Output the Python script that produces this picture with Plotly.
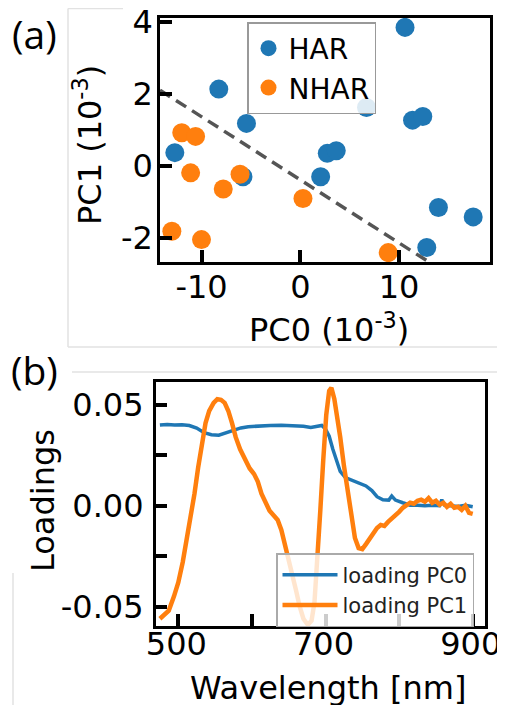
import plotly.graph_objects as go

# ---------------- Panel (a) data: PCA scores (units 1e-3) ----------------
har_pc0 = [10.6, -8.25, -5.45, -12.7, -5.8, 2.06, 2.73, 3.64, 6.7, 11.36, 12.4, 13.98, 17.5, 12.8]
har_pc1 = [3.84, 2.13, 1.18, 0.37, -0.30, -0.30, 0.35, 0.42, 1.62, 1.27, 1.37, -1.15, -1.41, -2.26]
nhar_pc0 = [-12.0, -10.6, -11.1, -7.8, -6.1, 0.27, -13.0, -10.0, 8.9]
nhar_pc1 = [0.92, 0.82, -0.19, -0.64, -0.23, -0.90, -1.81, -2.04, -2.40]
boundary_pc0 = [-14.2, 13.3]
boundary_pc1 = [2.10, -2.71]

# ---------------- Panel (b) data: loadings vs wavelength ----------------
wl_pc0 = [475, 485, 495, 505, 515, 525, 535, 545, 555, 565, 575, 585, 595, 610, 625, 640,
          655, 670, 680, 690, 695, 700, 705, 710, 715, 720, 727, 735, 745, 755, 763, 770,
          778, 786, 790, 795, 805, 815, 825, 835, 845, 855, 858, 862, 870, 880, 890, 900]
loading_pc0 = [0.0400, 0.0403, 0.0400, 0.0402, 0.0398, 0.0385, 0.0362, 0.0352, 0.0350, 0.0362,
               0.0378, 0.0386, 0.0392, 0.0396, 0.0398, 0.0399, 0.0397, 0.0394, 0.0388, 0.0395,
               0.0398, 0.0380, 0.0345, 0.0280, 0.0220, 0.0170, 0.0140, 0.0128, 0.0115, 0.0098,
               0.0075, 0.0045, 0.0030, 0.0028, 0.0048, 0.0028, 0.0015, 0.0003, 0.0002, 0.0000,
               0.0003, 0.0000, 0.0030, 0.0002, 0.0000, -0.0003, 0.0002, -0.0005]

wl_pc1 = [475, 480, 487, 494, 500, 506, 512, 517, 522, 527, 532, 537, 542, 548, 553, 558,
          563, 568, 573, 578, 584, 590, 597, 603, 608, 613, 618, 624, 630, 635, 640, 645,
          650, 655, 660, 665, 670, 676, 681, 685, 689, 693, 697, 701, 705, 708, 712, 716,
          720, 725, 730, 735, 740, 745, 750, 755, 760, 765, 770, 775, 780, 785, 790, 795,
          800, 805, 810, 815, 820, 825, 830, 835, 840, 845, 850, 855, 860, 865, 870, 875,
          880, 885, 890, 895, 900]
loading_pc1 = [-0.0560, -0.0540, -0.0520, -0.0450, -0.0380, -0.0280, -0.0160, -0.0060, 0.0060,
               0.0190, 0.0310, 0.0410, 0.0470, 0.0510, 0.0528, 0.0525, 0.0510, 0.0470, 0.0410,
               0.0340, 0.0280, 0.0230, 0.0185, 0.0157, 0.0120, 0.0060, 0.0015, -0.0025, -0.0050,
               -0.0070, -0.0120, -0.0190, -0.0270, -0.0340, -0.0420, -0.0500, -0.0560, -0.0590,
               -0.0570, -0.0480, -0.0280, -0.0020, 0.0230, 0.0450, 0.0570, 0.0585, 0.0530,
               0.0440, 0.0340, 0.0200, 0.0070, -0.0060, -0.0160, -0.0210, -0.0215, -0.0190,
               -0.0160, -0.0135, -0.0110, -0.0095, -0.0100, -0.0080, -0.0065, -0.0050, -0.0030,
               -0.0010, 0.0005, 0.0015, 0.0010, 0.0025, 0.0030, 0.0020, 0.0038, 0.0015, 0.0025,
               0.0005, 0.0015, -0.0005, 0.0010, -0.0010, -0.0005, -0.0020, 0.0000, -0.0035, -0.0040]

x_ticks_a = [-10, 0, 10]
x_ticktext_a = ["-10", "0", "10"]
y_ticks_a = [-2, 0, 2, 4]
y_ticktext_a = ["-2", "0", "2", "4"]
x_ticks_b = [500, 600, 700, 800, 900]
x_ticktext_b = ["500", "", "700", "", "900"]
y_ticks_b = [-0.05, -0.025, 0.0, 0.025, 0.05]
y_ticktext_b = ["-0.05", "", "0.00", "", "0.05"]

# figure fits inside the 505x713 window together with the 8px page margin
OFF = 8
W, H = 505 - 2 * OFF, 713 - 2 * OFF
BLUE, ORANGE = "#1f77b4", "#ff7f0e"
FONT = "DejaVu Sans"

def px(x):
    return (x - OFF) / W

def py(y):
    return 1 - (y - OFF) / H

fig = go.Figure()
fig.add_trace(go.Scatter(x=har_pc0, y=har_pc1, mode="markers", name="HAR",
                         marker=dict(color=BLUE, size=19), xaxis="x", yaxis="y", legend="legend"))
fig.add_trace(go.Scatter(x=nhar_pc0, y=nhar_pc1, mode="markers", name="NHAR",
                         marker=dict(color=ORANGE, size=19), xaxis="x", yaxis="y", legend="legend"))
fig.add_trace(go.Scatter(x=boundary_pc0, y=boundary_pc1, mode="lines", showlegend=False,
                         line=dict(color="#555555", width=3.5, dash="12px,7px"), xaxis="x", yaxis="y"))
fig.add_trace(go.Scatter(x=wl_pc0, y=loading_pc0, mode="lines", name="loading PC0",
                         line=dict(color=BLUE, width=3.5), xaxis="x2", yaxis="y2", legend="legend2"))
fig.add_trace(go.Scatter(x=wl_pc1, y=loading_pc1, mode="lines", name="loading PC1",
                         line=dict(color=ORANGE, width=4.5), xaxis="x2", yaxis="y2", legend="legend2"))

axis_common = dict(showline=True, linecolor="black", linewidth=2.5, mirror=True,
                   ticks="inside", ticklen=12, tickwidth=3.5, tickcolor="black", automargin=False,
                   ticklabeloverflow="allow",
                   showgrid=False, zeroline=False, tickfont=dict(family=FONT, size=32, color="black"))

fig.update_layout(
    width=W, height=H, margin=dict(l=0, r=0, t=0, b=0, autoexpand=False),
    paper_bgcolor="white", plot_bgcolor="white",
    font=dict(family=FONT, color="black"),
    xaxis=dict(domain=[px(160), px(490)], range=[-14.2, 19.2], tickvals=x_ticks_a,
               ticktext=x_ticktext_a, anchor="y", ticklabelstandoff=-5, **axis_common),
    yaxis=dict(domain=[py(262), py(18)], range=[-2.66, 4.1], tickvals=y_ticks_a,
               ticktext=y_ticktext_a, anchor="x", ticklabelstandoff=-2, **axis_common),
    xaxis2=dict(domain=[px(155.7), px(485)], range=[469.3, 916.7], tickvals=x_ticks_b,
                ticktext=x_ticktext_b, anchor="y2", ticklabelstandoff=-12, ticklabelshift=-2,
                **axis_common),
    yaxis2=dict(domain=[py(626), py(381.7)], range=[-0.0596, 0.0615], tickvals=y_ticks_b,
                ticktext=y_ticktext_b, anchor="x2", ticklabelstandoff=3, **axis_common),
    legend=dict(x=px(247), y=py(22), xanchor="left", yanchor="top",
                bgcolor="rgba(255,255,255,0.85)", bordercolor="#999999", borderwidth=1.5,
                font=dict(family=FONT, size=28, color="black"), itemwidth=30,
                tracegroupgap=0),
    legend2=dict(x=px(474), y=py(553), xanchor="right", yanchor="top",
                 bgcolor="rgba(255,255,255,0.8)", bordercolor="#aaaaaa", borderwidth=1.5,
                 font=dict(family=FONT, size=21, color="#222222"), itemwidth=55),
)

annotations = [
    dict(text="PC1 (10<sup>-3</sup>)", x=px(88), y=py(145), textangle=-90, font=dict(size=32)),
    dict(text="PC0 (10<sup>-3</sup>)", x=px(329), y=py(328), font=dict(size=32)),
    dict(text="Loadings", x=px(43), y=py(501), textangle=-90, font=dict(size=32)),
    dict(text="Wavelength [nm]", x=px(328), y=py(688), font=dict(size=32)),
    dict(text="(a)", x=px(34), y=py(33), font=dict(size=39, family="Open Sans")),
    dict(text="(b)", x=px(34), y=py(369), font=dict(size=39, family="Open Sans")),
]
for a in annotations:
    a.update(xref="paper", yref="paper", showarrow=False, xanchor="center", yanchor="middle")
    a.setdefault("font", {}).setdefault("family", FONT)
    a["font"]["color"] = "black"
fig.update_layout(annotations=annotations)

# faint borders of the original image panels
frame = dict(type="line", xref="paper", yref="paper", line=dict(color="#e2e2e2", width=1.5), layer="below")
fig.add_shape(x0=px(68), x1=px(68), y0=py(8.5), y1=py(347), **frame)
fig.add_shape(x0=px(68), x1=px(123), y0=py(8.5), y1=py(8.5), **frame)
fig.add_shape(x0=px(68), x1=1, y0=py(347), y1=py(347), **frame)
fig.add_shape(x0=px(72), x1=1, y0=py(372), y1=py(372), **frame)
fig.add_shape(x0=px(13), x1=px(13), y0=py(573), y1=0, **frame)

fig.write_html("out.html")
